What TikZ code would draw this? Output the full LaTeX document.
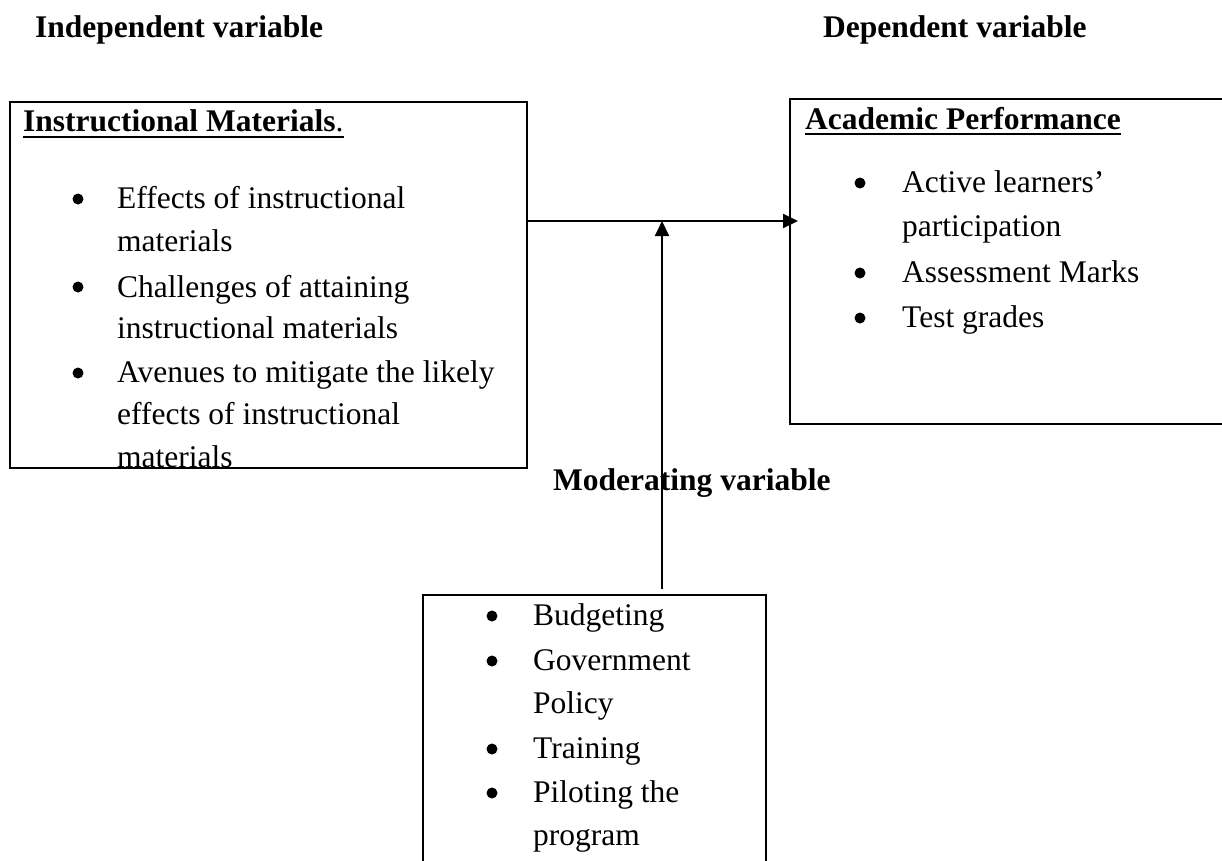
\documentclass[tikz,border=0pt]{standalone}
\usepackage{fontspec}
\setmainfont{Liberation Serif}
\usetikzlibrary{arrows.meta}
\begin{document}
\begin{tikzpicture}[x=1pt,y=-1pt,
  txt/.style={anchor=base west, inner sep=0pt, font=\fontsize{31.5}{38}\selectfont},
  hd/.style={anchor=base west, inner sep=0pt, font=\fontsize{31.5}{38}\selectfont\bfseries},
  box/.style={draw, line width=2pt, inner sep=0pt},
  bul/.style={circle, fill, inner sep=0pt, minimum size=11pt},
  uline/.style={line width=2.8pt},
  arr/.style={line width=2pt, -{Triangle[length=15pt,width=14pt]}}]
\useasboundingbox (0,0) rectangle (1222,860);
\clip (0,0) rectangle (1222,860);
% boxes
\node[box, minimum width=517pt, minimum height=366pt] (indep) at (268.5,285) {};
\node[box, minimum width=450pt, minimum height=325pt] (dep) at (1015,261.5) {};
\node[box, minimum width=343pt, minimum height=305pt] (mod) at (594.5,747.5) {};
% headings
\node[hd] (h1) at (35,37) {Independent variable};
\node[hd] (h2) at (823,37) {Dependent variable};
\node[hd] (h3) at (553,490) {Moderating variable};
\node[hd] (t1) at (23,131) {Instructional Materials\textmd{.}};
\draw[uline] ([yshift=-6pt]t1.base west) -- ([yshift=-6pt]t1.base east);
\node[hd] (t2) at (805,129) {Academic Performance};
\draw[uline] ([yshift=-5pt]t2.base west) -- ([yshift=-5pt]t2.base east);
% left items
\node[bul] (b1) at (78,199) {};
\node[txt] (l1) at (117,208) {Effects of instructional};
\node[txt] (l2) at (117,251) {materials};
\node[bul] (b2) at (78,287) {};
\node[txt] (l3) at (117,297) {Challenges of attaining};
\node[txt] (l4) at (117,338) {instructional materials};
\node[bul] (b3) at (78,373) {};
\node[txt] (l5) at (117,382) {Avenues to mitigate the likely};
\node[txt] (l6) at (117,424) {effects of instructional};
\node[txt] (l7) at (117,467) {materials};
% right items
\node[bul] (c1) at (860,183) {};
\node[txt] (r1) at (902,192) {Active learners’};
\node[txt] (r2) at (902,236) {participation};
\node[bul] (c2) at (860,273) {};
\node[txt] (r3) at (902,282) {Assessment Marks};
\node[bul] (c3) at (860,318) {};
\node[txt] (r4) at (902,327) {Test grades};
% bottom items
\node[bul] (d1) at (492,616) {};
\node[txt] (m1) at (533,625) {Budgeting};
\node[bul] (d2) at (492,661) {};
\node[txt] (m2) at (533,670) {Government};
\node[txt] (m3) at (533,713) {Policy};
\node[bul] (d3) at (492,749) {};
\node[txt] (m4) at (533,758) {Training};
\node[bul] (d4) at (492,793) {};
\node[txt] (m5) at (533,802) {Piloting the};
\node[txt] (m6) at (533,845) {program};
% connectors
\coordinate (hy) at (0,221);
\coordinate (vx) at (662,0);
\draw[arr] (indep.east |- hy) -- ([xshift=9pt]dep.west |- hy);
\draw[arr] ([yshift=5pt]mod.north -| vx) -- (vx |- hy);
\end{tikzpicture}
\end{document}
